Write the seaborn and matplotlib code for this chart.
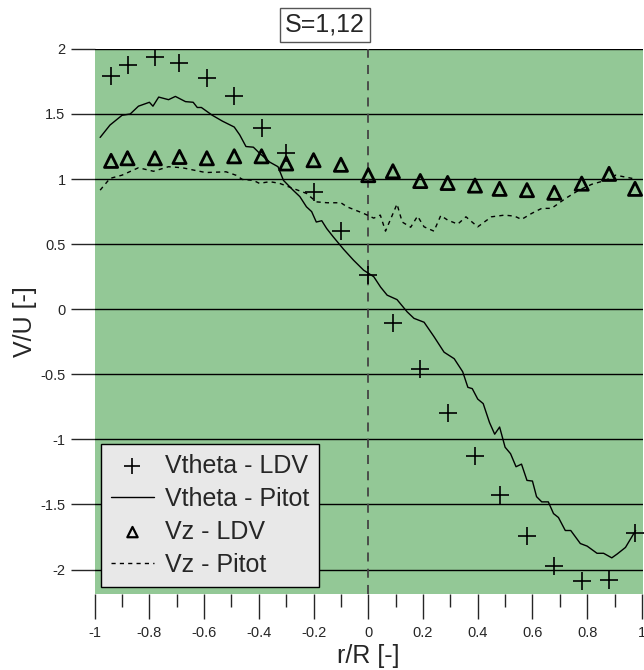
import numpy as np
import pandas as pd
import matplotlib
matplotlib.use('Agg')
import matplotlib.pyplot as plt
from matplotlib.ticker import MultipleLocator
import seaborn as sns

ldv_r = [-0.94, -0.88, -0.78, -0.69, -0.59, -0.49, -0.39, -0.30, -0.20, -0.10, 0.0,
         0.09, 0.19, 0.29, 0.39, 0.48, 0.58, 0.68, 0.78, 0.88, 0.975]
vtheta_ldv = [1.79, 1.88, 1.94, 1.895, 1.775, 1.64, 1.39, 1.20, 0.90, 0.60, 0.26,
              -0.105, -0.46, -0.80, -1.13, -1.43, -1.74, -1.97, -2.09, -2.08, -1.72]
vz_ldv = [1.14, 1.16, 1.16, 1.17, 1.16, 1.175, 1.175, 1.12, 1.145, 1.11, 1.03,
          1.06, 0.985, 0.97, 0.95, 0.925, 0.915, 0.895, 0.965, 1.04, 0.925]

### Pitot probe traces
vtheta_pitot_r = [-0.98, -0.944, -0.90, -0.87, -0.84, -0.80, -0.787, -0.766, -0.73, -0.705,
                  -0.668, -0.64, -0.625, -0.61, -0.57, -0.533, -0.49, -0.47, -0.447, -0.42,
                  -0.398, -0.36, -0.33, -0.31, -0.275, -0.25, -0.226, -0.207, -0.19, -0.17,
                  -0.152, -0.128, -0.09, -0.054, -0.017, 0.02, 0.045, 0.069, 0.105, 0.142,
                  0.167, 0.204, 0.24, 0.277, 0.314, 0.345, 0.364, 0.38, 0.40, 0.42,
                  0.443, 0.462, 0.48, 0.50, 0.52, 0.54, 0.56, 0.58, 0.60, 0.615,
                  0.634, 0.658, 0.677, 0.695, 0.72, 0.74, 0.775, 0.80, 0.836, 0.86,
                  0.89, 0.91, 0.94, 0.977]
vtheta_pitot = [1.32, 1.415, 1.49, 1.50, 1.56, 1.59, 1.56, 1.63, 1.61, 1.635,
                1.595, 1.59, 1.55, 1.55, 1.49, 1.445, 1.40, 1.34, 1.25, 1.245,
                1.20, 1.13, 1.095, 0.99, 0.915, 0.865, 0.787, 0.75, 0.67, 0.68,
                0.62, 0.556, 0.46, 0.377, 0.30, 0.25, 0.17, 0.108, 0.074, -0.02,
                -0.07, -0.10, -0.21, -0.33, -0.38, -0.48, -0.60, -0.61, -0.69, -0.725,
                -0.87, -0.96, -0.905, -1.06, -1.11, -1.21, -1.19, -1.315, -1.32, -1.44,
                -1.48, -1.48, -1.57, -1.60, -1.70, -1.70, -1.80, -1.82, -1.875, -1.875,
                -1.91, -1.88, -1.83, -1.70]

vz_pitot_r = [-0.98, -0.944, -0.90, -0.84, -0.785, -0.73, -0.68, -0.594, -0.52, -0.484,
              -0.46, -0.42, -0.398, -0.36, -0.324, -0.275, -0.226, -0.19, -0.15, -0.10,
              -0.078, -0.017, 0.02, 0.044, 0.063, 0.105, 0.124, 0.155, 0.18, 0.204,
              0.24, 0.265, 0.29, 0.327, 0.357, 0.40, 0.45, 0.498, 0.535, 0.56,
              0.597, 0.634, 0.67, 0.72, 0.77, 0.817, 0.867, 0.904, 0.965]
vz_pitot = [0.915, 1.005, 1.03, 1.087, 1.06, 1.095, 1.087, 1.05, 1.056, 1.03,
            0.997, 0.99, 0.967, 0.98, 0.967, 0.928, 0.89, 0.825, 0.818, 0.818,
            0.787, 0.736, 0.70, 0.723, 0.60, 0.808, 0.67, 0.63, 0.715, 0.633,
            0.60, 0.72, 0.685, 0.654, 0.71, 0.633, 0.71, 0.723, 0.715, 0.69,
            0.736, 0.775, 0.775, 0.85, 0.915, 0.96, 0.99, 1.03, 1.005]

title_text = 'S=1,12'
y_ticks = [-2, -1.5, -1, -0.5, 0, 0.5, 1, 1.5, 2]
x_ticks = [-1, -0.8, -0.6, -0.4, -0.2, 0, 0.2, 0.4, 0.6, 0.8, 1]

sns.set_style('white')
plt.rcParams['font.family'] = ['Liberation Sans', 'DejaVu Sans']

fig = plt.figure(figsize=(6.44, 6.70), dpi=100)
ax = fig.add_axes([0.147, 0.113, 0.851, 0.814])
ax.set_facecolor('#93c896')

# horizontal lines every 0.5, dashed centre line
for yv in y_ticks:
    ax.axhline(yv, color='black', lw=1.0, zorder=1)
ax.axvline(0, color='#444444', lw=1.3, ls=(0, (5, 4)), zorder=1)

sns.scatterplot(x=ldv_r, y=vtheta_ldv, ax=ax, marker='+', s=170, color='black',
                linewidth=1.2, label='Vtheta - LDV', zorder=3)
sns.lineplot(x=vtheta_pitot_r, y=vtheta_pitot, ax=ax, color='black', lw=1.0,
             sort=False, label='Vtheta - Pitot', zorder=2)
sns.scatterplot(x=ldv_r, y=vz_ldv, ax=ax, marker='^', s=90, facecolor='none',
                edgecolor='black', linewidth=2.0, label='Vz - LDV', zorder=3)
sns.lineplot(x=vz_pitot_r, y=vz_pitot, ax=ax, color='black', lw=1.0, ls=(0, (3, 3)),
             sort=False, label='Vz - Pitot', zorder=2)

for s in ax.spines.values():
    s.set_visible(False)

ax.set_xticks(x_ticks)
ax.set_xticklabels([f'{v:g}' for v in x_ticks])
ax.xaxis.set_minor_locator(MultipleLocator(0.1))
ax.set_yticks(y_ticks)
ax.set_yticklabels([f'{v:g}' for v in y_ticks])
ax.set_xlim(-1, 1.003)
ax.set_ylim(-2.19, 2)

ax.tick_params(axis='x', which='major', direction='out', length=18, width=1,
               labelsize=10.5, pad=5, bottom=True)
ax.tick_params(axis='x', which='minor', direction='out', length=9, width=1, bottom=True)
ax.tick_params(axis='y', which='major', direction='out', length=17, width=1,
               labelsize=10.5, pad=4, left=True)

ax.set_xlabel('r/R [-]', fontsize=18, labelpad=3)
ax.set_ylabel('V/U [-]', fontsize=18, labelpad=2)

leg = ax.legend(loc='lower left', bbox_to_anchor=(0.012, 0.014), borderaxespad=0,
                fontsize=18, frameon=True, fancybox=False, framealpha=1,
                handlelength=1.7, handletextpad=0.45, labelspacing=0.36,
                borderpad=0.4)
leg.get_frame().set_facecolor('#e8e8e8')
leg.get_frame().set_edgecolor('black')
leg.get_frame().set_linewidth(1.0)
hs = leg.legend_handles
hs[0].set_sizes([130])
hs[2].set_sizes([55])
hs[2].set_linewidth(1.6)

fig.text(0.505, 0.963, title_text, ha='center', va='center', fontsize=18,
         bbox=dict(facecolor='white', edgecolor='#555555', boxstyle='square,pad=0.2'))

fig.savefig('out.png', dpi=100)
